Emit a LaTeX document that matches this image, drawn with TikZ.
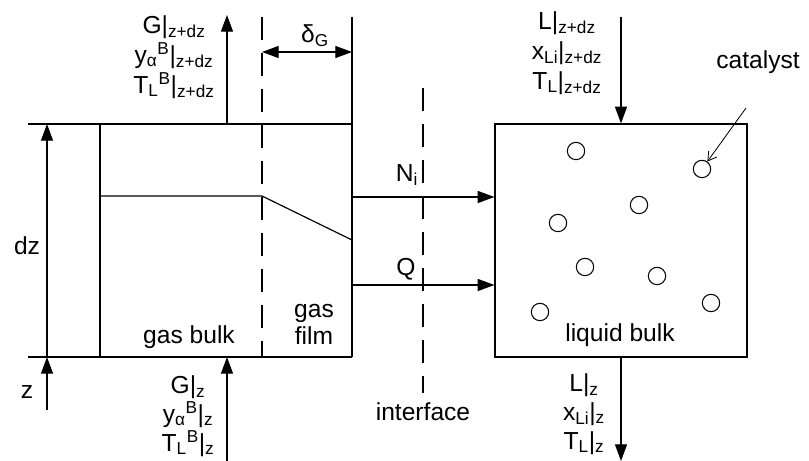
\documentclass[tikz,border=0pt]{standalone}
\usepackage{fontspec}
\setmainfont{Liberation Sans}
\usetikzlibrary{arrows.meta}
\newcommand\tightlines{\lineskiplimit=-100pt\relax}

\begin{document}
\begin{tikzpicture}[x=0.03cm,y=-0.03cm]
\tikzset{
  wall/.style={line width=1pt},
  flow/.style={-{Triangle[length=5mm,width=3.6mm]},line width=1pt},
  film/.style={line width=1pt,dash pattern=on 6.9mm off 3.9mm},
  lbl/.style={inner sep=0pt,align=center,font=\fontsize{21}{25}\selectfont},
  stack/.style={lbl,font=\fontsize{21}{#1}\selectfont\tightlines},
  pellet/.style={circle,draw,line width=0.9pt,minimum size=5.2mm,inner sep=0pt},
  pointer/.style={-{Straight Barb[length=2.5mm,width=3mm]},line width=0.7pt}
}
\useasboundingbox (0,0) rectangle (809,461);
% gas side
\coordinate (g_tl) at (28,124);
\coordinate (g_tr) at (352,124);
\coordinate (g_bl) at (28,357);
\coordinate (g_br) at (352,357);
\coordinate (g_in_t) at (100,124);
\coordinate (g_in_b) at (100,357);
\coordinate (wall_top) at (352,17);
\coordinate (film_top) at (262,17);
\coordinate (film_bot) at (262,357);
\coordinate (prof_a) at (100,196);
\coordinate (prof_b) at (262,196);
\coordinate (prof_c) at (352,240);
\draw[wall] (g_tl) -- (g_tr);
\draw[wall] (g_bl) -- (g_br);
\draw[wall] (g_in_t) -- (g_in_b);
\draw[wall] (wall_top) -- (g_br);
\draw[film] (film_top) -- (film_bot);
\draw[wall] (prof_a) -- (prof_b) -- (prof_c);
% height of the element
\coordinate (dz_top) at (47,124);
\coordinate (dz_bot) at (47,357);
\coordinate (z_tail) at (47,410);
\draw[flow] (dz_bot) -- (dz_top);
\draw[flow] (z_tail) -- (dz_bot);
\node[lbl] (n_dz) at (27,246) {dz};
\node[lbl] (n_z) at (27,392) {z};
% gas streams
\coordinate (gtop_base) at (227,124);
\coordinate (gtop_tip) at (227,15);
\coordinate (gbot_tail) at (227,461);
\coordinate (gbot_tip) at (227,357);
\draw[flow] (gtop_base) -- (gtop_tip);
\draw[flow] (gbot_tail) -- (gbot_tip);
\node[stack=25.6pt] (n_Gtop) at (174,57)
  {G|\textsubscript{z+dz}\\y\textsubscript{α}\textsuperscript{B}|\textsubscript{z+dz}\\T\textsubscript{L}\textsuperscript{B}|\textsubscript{z+dz}};
\node[stack=24.7pt] (n_Gbot) at (188,416)
  {G|\textsubscript{z}\\y\textsubscript{α}\textsuperscript{B}|\textsubscript{z}\\T\textsubscript{L}\textsuperscript{B}|\textsubscript{z}};
% film thickness
\coordinate (d_l) at (262,52);
\coordinate (d_r) at (352,52);
\draw[{Triangle[length=5mm,width=3.6mm]}-{Triangle[length=5mm,width=3.6mm]},line width=1pt] (d_l) -- (d_r);
\node[lbl] (n_delta) at (315,36) {δ\textsubscript{G}};
\node[lbl] (n_bulk) at (189,337) {gas bulk};
\node[stack=23pt] (n_film) at (314,324) {gas\\film};
% interface
\coordinate (if_top) at (423,88);
\coordinate (if_bot) at (423,393);
\draw[film] (if_top) -- (if_bot);
\node[lbl] (n_if) at (423,412) {interface};
% liquid side
\node[draw,wall,minimum width=7.56cm,minimum height=6.99cm,inner sep=0pt] (n_liq) at (621,240.5) {};
\coordinate (ni_src) at (352,197);
\coordinate (q_src) at (352,285);
\draw[flow] (ni_src) -- (ni_src -| n_liq.west);
\draw[flow] (q_src) -- (q_src -| n_liq.west);
\node[lbl] (n_Ni) at (407,175) {N\textsubscript{i}};
\node[lbl] (n_Q) at (406,269) {Q};
\coordinate (ltop_tail) at (621,17);
\coordinate (lbot_tip) at (621,461);
\draw[flow] (ltop_tail) -- (n_liq.north);
\draw[flow] (n_liq.south) -- (lbot_tip);
\node[stack=25.6pt] (n_Ltop) at (567,53)
  {L|\textsubscript{z+dz}\\x\textsubscript{Li}|\textsubscript{z+dz}\\T\textsubscript{L}|\textsubscript{z+dz}};
\node[stack=24.7pt] (n_Lbot) at (584,414)
  {L|\textsubscript{z}\\x\textsubscript{Li}|\textsubscript{z}\\T\textsubscript{L}|\textsubscript{z}};
\node[lbl] (n_lbulk) at (620,335) {liquid bulk};
% catalyst particles
\node[pellet] (n_c1) at (576,151) {};
\node[pellet] (n_c2) at (702,169) {};
\node[pellet] (n_c3) at (639,205) {};
\node[pellet] (n_c4) at (558,223) {};
\node[pellet] (n_c5) at (585,267) {};
\node[pellet] (n_c6) at (657,276) {};
\node[pellet] (n_c7) at (540,312) {};
\node[pellet] (n_c8) at (711,303) {};
\node[lbl] (n_cat) at (758,62) {catalyst};
\coordinate (cat_from) at (746,108);
\draw[pointer] (cat_from) -- (n_c2);
\end{tikzpicture}
\end{document}
